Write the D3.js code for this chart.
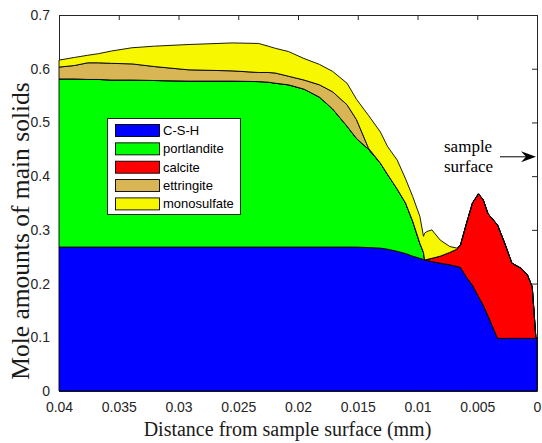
<!DOCTYPE html>
<html><head><meta charset="utf-8">
<script src="https://cdn.jsdelivr.net/npm/d3@7"></script>
<style>body{margin:0;background:#fff}svg{display:block}</style>
</head><body>
<svg id="chart" width="542" height="443"></svg>
<script>
// distance from sample surface (mm)
const distance = [0.0400, 0.0387, 0.0376, 0.0367, 0.0356, 0.0339, 0.0320, 0.0292, 0.0255, 0.0233,
  0.0225, 0.0219, 0.0208, 0.0195, 0.0182, 0.0171, 0.0159, 0.0151, 0.0141, 0.0131,
  0.0125, 0.0117, 0.0110, 0.0104, 0.0098, 0.0095, 0.0094, 0.0092, 0.0088, 0.0081,
  0.0073, 0.0067, 0.0064, 0.0059, 0.0054, 0.0049, 0.0045, 0.0041, 0.0033, 0.0027,
  0.0021, 0.0013, 0.0008, 0.0004, 0.0001, 0];
const csh = [0.268, 0.268, 0.268, 0.268, 0.268, 0.268, 0.268, 0.268, 0.268, 0.268,
  0.268, 0.268, 0.268, 0.268, 0.268, 0.268, 0.268, 0.268, 0.267, 0.266,
  0.264, 0.260, 0.256, 0.251, 0.247, 0.245, 0.244, 0.243, 0.241, 0.238,
  0.235, 0.232, 0.230, 0.212, 0.197, 0.176, 0.160, 0.140, 0.098, 0.098,
  0.098, 0.098, 0.098, 0.098, 0.098, 0.098];
const portlandite = [0.313, 0.313, 0.312, 0.312, 0.311, 0.311, 0.310, 0.309, 0.309, 0.308,
  0.307, 0.305, 0.302, 0.294, 0.279, 0.257, 0.225, 0.202, 0.183, 0.158,
  0.139, 0.116, 0.094, 0.065, 0.028, 0.013, 0, 0, 0, 0,
  0, 0, 0, 0, 0, 0, 0, 0, 0, 0,
  0, 0, 0, 0, 0, 0];
const calcite = [0, 0, 0, 0, 0, 0, 0, 0, 0, 0,
  0, 0, 0, 0, 0, 0, 0, 0, 0, 0,
  0, 0, 0, 0, 0, 0, 0, 0.002, 0.006, 0.013,
  0.023, 0.032, 0.042, 0.100, 0.153, 0.191, 0.196, 0.190, 0.211, 0.177,
  0.140, 0.130, 0.118, 0.096, 0.003, 0];
const ettringite = [0.022, 0.025, 0.031, 0.031, 0.031, 0.030, 0.026, 0.021, 0.019, 0.017,
  0.018, 0.019, 0.016, 0.017, 0.023, 0.032, 0.040, 0.035, 0.002, 0,
  0, 0, 0, 0, 0, 0, 0, 0, 0, 0,
  0, 0, 0, 0, 0, 0, 0, 0, 0, 0,
  0, 0, 0, 0, 0, 0];
const monosulfate = [0.013, 0.015, 0.014, 0.017, 0.023, 0.030, 0.038, 0.047, 0.052, 0.054,
  0.049, 0.046, 0.046, 0.040, 0.038, 0.038, 0.040, 0.038, 0.061, 0.058,
  0.052, 0.054, 0.045, 0.046, 0.050, 0.030, 0.050, 0.052, 0.053, 0.030,
  0.011, 0.002, 0, 0, 0, 0, 0, 0, 0, 0,
  0, 0, 0, 0, 0, 0];

const seriesNames = ["C-S-H", "portlandite", "calcite", "ettringite", "monosulfate"];
const seriesValues = [csh, portlandite, calcite, ettringite, monosulfate];
const seriesColors = ["#0000ff", "#00ff00", "#ff0000", "#d8b655", "#f7f700"];
const xTicks = [0.04, 0.035, 0.03, 0.025, 0.02, 0.015, 0.01, 0.005, 0];
const yTicks = [0, 0.1, 0.2, 0.3, 0.4, 0.5, 0.6, 0.7];
const arrowLevel = 0.436;

const table = distance.map((d, i) => {
  const row = {distance: d};
  seriesNames.forEach((n, k) => row[n] = seriesValues[k][i]);
  return row;
});

const svg = d3.select("#chart");
const x = d3.scaleLinear().domain([0.04, 0]).range([59, 537]);
const y = d3.scaleLinear().domain([0, 0.7]).range([391, 15]);
const axisColor = "#262626";
const tickFont = "'Liberation Sans', Arial, sans-serif";
const serif = "'Liberation Serif', 'Times New Roman', serif";

function styleAxis(g) {
  g.selectAll("path.domain").attr("stroke", axisColor).attr("stroke-width", 1);
  g.selectAll(".tick line").attr("stroke", axisColor);
  g.selectAll("text").attr("fill", axisColor).style("font-family", tickFont).style("font-size", "14px");
}

svg.append("g").attr("transform", "translate(0,391)")
  .call(d3.axisBottom(x).tickValues(xTicks).tickFormat(d => String(d)).tickSizeInner(-5).tickSizeOuter(0).tickPadding(11))
  .call(styleAxis);
svg.append("g").attr("transform", "translate(0,15)")
  .call(d3.axisTop(x).tickValues(xTicks).tickFormat("").tickSizeInner(-5).tickSizeOuter(0))
  .call(styleAxis);
svg.append("g").attr("transform", "translate(59,0)")
  .call(d3.axisLeft(y).tickValues(yTicks).tickFormat(d => String(d)).tickSizeInner(-5).tickSizeOuter(0).tickPadding(9))
  .call(styleAxis);
svg.append("g").attr("transform", "translate(537,0)")
  .call(d3.axisRight(y).tickValues(yTicks).tickFormat("").tickSizeInner(-5).tickSizeOuter(0))
  .call(styleAxis);
svg.selectAll(".tick text").attr("font-size", null);

const stack = d3.stack().keys(seriesNames);
const stacked = stack(table);
const area = d3.area()
  .x(d => x(d.data.distance))
  .y0(d => y(d[0]))
  .y1(d => y(d[1]));

svg.append("g").selectAll("path").data(stacked).join("path")
  .attr("d", area)
  .attr("fill", (d, i) => seriesColors[i])
  .attr("stroke", "#000")
  .attr("stroke-width", 0.9)
  .attr("stroke-linejoin", "round");

// legend
const lg = svg.append("g");
lg.append("rect").attr("x", 107.5).attr("y", 118.5).attr("width", 133).attr("height", 96)
  .attr("fill", "#fff").attr("stroke", axisColor).attr("stroke-width", 1);
seriesNames.forEach((n, i) => {
  const yy = 124.5 + i * 18.35;
  lg.append("rect").attr("x", 115.5).attr("y", yy).attr("width", 44).attr("height", 12)
    .attr("fill", seriesColors[i]).attr("stroke", "#000").attr("stroke-width", 0.9);
  lg.append("text").attr("x", 163).attr("y", yy + 10.5).text(n)
    .style("font-family", tickFont).style("font-size", "13px").attr("fill", "#000");
});

// annotation
const ay = y(arrowLevel);
svg.append("text").attr("x", 444).attr("y", 152).text("sample")
  .style("font-family", serif).style("font-size", "17px").attr("fill", "#000");
svg.append("text").attr("x", 444).attr("y", 171.7).text("surface")
  .style("font-family", serif).style("font-size", "17px").attr("fill", "#000");
svg.append("line").attr("x1", 500).attr("x2", 528).attr("y1", ay).attr("y2", ay)
  .attr("stroke", "#000").attr("stroke-width", 1);
svg.append("path")
  .attr("d", `M${x(0) - 1},${ay} L${x(0) - 16},${ay - 5.5} L${x(0) - 11},${ay} L${x(0) - 16},${ay + 5.5} Z`)
  .attr("fill", "#000");

// axis labels
svg.append("text").attr("x", 287.5).attr("y", 436).attr("text-anchor", "middle")
  .text("Distance from sample surface (mm)")
  .style("font-family", serif).style("font-size", "20px").attr("fill", "#1a1a1a");
svg.append("text").attr("transform", "translate(29,231) rotate(-90)").attr("text-anchor", "middle")
  .text("Mole amounts of main solids")
  .style("font-family", serif).style("font-size", "25.5px").attr("fill", "#1a1a1a");
</script>
</body></html>
